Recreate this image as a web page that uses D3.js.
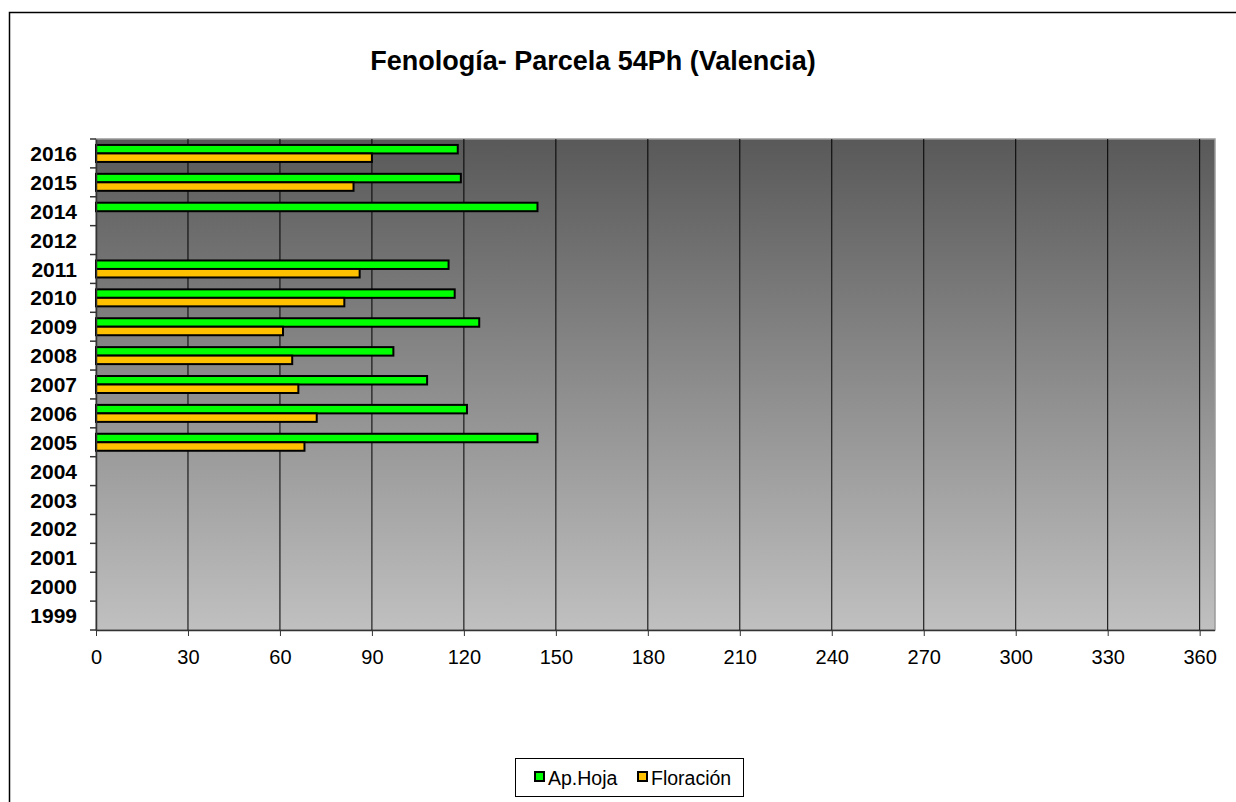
<!DOCTYPE html>
<html><head><meta charset="utf-8">
<script src="https://cdn.jsdelivr.net/npm/d3@7"></script>
<style>body{margin:0;background:#fff}svg{display:block}</style>
</head><body><svg id="c" width="1236" height="802"></svg>
<script>
const categories = ["2016","2015","2014","2012","2011","2010","2009","2008","2007","2006","2005","2004","2003","2002","2001","2000","1999"];
const apHoja =    [118, 119, 144, null, 115, 117, 125, 97, 108, 121, 144, null, null, null, null, null, null];
const floracion = [90, 84, null, null, 86, 81, 61, 64, 66, 72, 68, null, null, null, null, null, null];
const seriesNames = ["Ap.Hoja", "Floración"];
const seriesColors = ["#00ff00", "#ffc000"];
const xTicks = [0,30,60,90,120,150,180,210,240,270,300,330,360];
const title = "Fenología- Parcela 54Ph (Valencia)";

const svg = d3.select("#c");
const L = 96, R = 1215, T = 139, B = 630;
const font = "Liberation Sans, Arial, sans-serif";

// outer chart border
svg.append("path").attr("d", `M9.5,802 V12.5 H1236`).attr("fill","none").attr("stroke","#000").attr("stroke-width",1.5);

const defs = svg.append("defs");
const g = defs.append("linearGradient").attr("id","bg").attr("x1",0).attr("y1",0).attr("x2",0).attr("y2",1);
g.append("stop").attr("offset","0%").attr("stop-color","#595959");
g.append("stop").attr("offset","100%").attr("stop-color","#c0c0c0");

const x = d3.scaleLinear().domain([0,365]).range([L, R]);
const y = d3.scaleBand().domain(categories).range([T, B]).paddingInner(0).paddingOuter(0);
const ys = d3.scaleBand().domain(seriesNames).range([0, y.bandwidth()]).paddingInner(0).paddingOuter(0.7);

svg.append("text").attr("x", 593).attr("y", 70).attr("text-anchor","middle")
  .attr("font-family", font).attr("font-weight","bold").attr("font-size", 27).text(title);

svg.append("rect").attr("x", L).attr("y", T).attr("width", R-L).attr("height", B-T)
  .attr("fill","url(#bg)").attr("stroke","#9a9a9a").attr("stroke-width",1.5);

// gridlines
svg.append("g").selectAll("line").data(xTicks.slice(1)).join("line")
  .attr("x1", d=>x(d)).attr("x2", d=>x(d)).attr("y1", T).attr("y2", B)
  .attr("stroke","#000").attr("stroke-width",1);

// bars
const data = [];
categories.forEach((c,i)=>{
  [apHoja[i], floracion[i]].forEach((v,j)=>{ if(v!=null) data.push({c, s: seriesNames[j], v, col: seriesColors[j]}); });
});
svg.append("g").selectAll("rect").data(data).join("rect")
  .attr("x", x(0)).attr("y", d=>y(d.c)+ys(d.s))
  .attr("width", d=>x(d.v)-x(0)).attr("height", ys.bandwidth())
  .attr("fill", d=>d.col).attr("stroke","#000").attr("stroke-width",2);

// x axis
const xa = svg.append("g").attr("transform",`translate(0,${B})`)
  .call(d3.axisBottom(x).tickValues(xTicks).tickSize(6).tickPadding(12).tickFormat(d3.format("d")));
xa.select(".domain").attr("d", `M${L},0.5H${R}`).attr("stroke","#333").attr("stroke-width",1.5);
xa.selectAll(".tick line").attr("stroke","#333");
xa.selectAll("text").attr("font-family", font).attr("font-size", 20).attr("fill","#000")
  .attr("dy", null).attr("y", 34);

// y axis
const ya = svg.append("g").attr("transform",`translate(${L},0)`)
  .call(d3.axisLeft(y).tickSize(0).tickPadding(19));
ya.select(".domain").attr("stroke","#333").attr("stroke-width",1.5);
ya.selectAll("text").attr("font-family", font).attr("font-size", 21).attr("font-weight","bold").attr("fill","#000")
  .attr("dy","0.36em");
svg.append("g").selectAll("line").data(categories.concat(["end"])).join("line")
  .attr("x1", L-6).attr("x2", L).attr("y1", (d,i)=> T + i*y.step()).attr("y2",(d,i)=> T + i*y.step())
  .attr("stroke","#333").attr("stroke-width",1.5);

// legend
const lg = svg.append("g");
lg.append("rect").attr("x",515.5).attr("y",758.5).attr("width",228).attr("height",38).attr("fill","#fff").attr("stroke","#000");
const items = [{n:seriesNames[0], c:seriesColors[0], x:535},{n:seriesNames[1], c:seriesColors[1], x:638}];
items.forEach(it=>{
  lg.append("rect").attr("x", it.x).attr("y",772).attr("width",9).attr("height",9).attr("fill",it.c).attr("stroke","#000").attr("stroke-width",2);
  lg.append("text").attr("x", it.x+13).attr("y",785).attr("font-family",font).attr("font-size",19.5).text(it.n);
});
</script></body></html>
